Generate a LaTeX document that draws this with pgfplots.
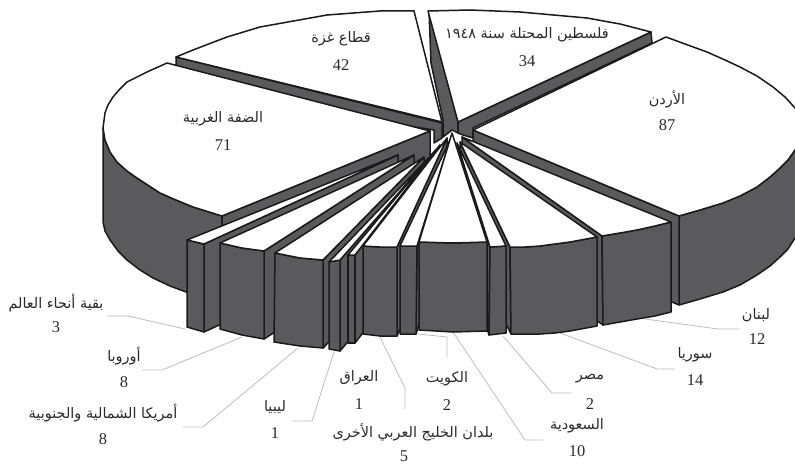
\documentclass[border=0pt]{standalone}
\usepackage{fontspec}
\usepackage{pgfplots}
\pgfplotsset{compat=1.18}
\setmainfont{Liberation Serif}
\newfontfamily\arabicfont[Script=Arabic]{DejaVu Sans}
\TeXXeTstate=1
\definecolor{sidegray}{HTML}{5A5A5C}
\definecolor{edge}{HTML}{1A1A1A}
\definecolor{leader}{HTML}{BDBDBD}
\definecolor{labeltext}{HTML}{2A2A2A}
\newcommand{\ar}[1]{{\arabicfont\fontsize{14.5}{16}\selectfont\beginR #1\endR}}
\newcommand{\val}[1]{{\fontsize{16.5}{18}\selectfont #1}}
\tikzset{
  side/.style={fill=sidegray,draw=edge,line width=1.5bp,line join=round},
  top/.style={fill=white,draw=edge,line width=1.5bp,line join=round},
  lead/.style={draw=leader,line width=0.8bp},
  lab/.style={inner sep=0pt,text=labeltext,anchor=center}
}
\begin{document}
\begin{tikzpicture}
\begin{axis}[
  width=795bp,height=466bp,scale only axis,
  xmin=0,xmax=795,ymin=0,ymax=466,y dir=reverse,
  axis lines=none,no markers]

% keep the page the size of the axis
\path (rel axis cs:0,0) rectangle (rel axis cs:1,1);

% leaders
\addplot[lead] coordinates {(107,316)(128,316)(185,329)};
\addplot[lead] coordinates {(142,370)(162,370)(242,337)};
\addplot[lead] coordinates {(183,427)(203,427)(298,348)};
\addplot[lead] coordinates {(292,421)(312,421)(334,352)};
\addplot[lead] coordinates {(380,337)(405,388)(405,409)};
\addplot[lead] coordinates {(418,334)(447,337)(447,357)};
\addplot[lead] coordinates {(453,332)(525,440)(543,440)};
\addplot[lead] coordinates {(503,336)(552,393)(572,393)};
\addplot[lead] coordinates {(560,333)(657,369)(675,369)};
\addplot[lead] coordinates {(645,319)(718,329)(740,329)};

% back: Gaza, 1948
\addplot[side] coordinates {(176,57)(442,123)(442,138)(434,143)(434,130)(176,90)} --cycle;
\addplot[top] coordinates {(176,57)(193,50)(227,37)(260,27)(327,15)(380,11)(414,11)(442,122)} --cycle;
\addplot[side] coordinates {(429,11)(431,63)(443,120)(443,137)(452,130)(458,133)(458,122)} --cycle;
\addplot[side] coordinates {(458,122)(651,32)(652,43)(473,128)(473,138)(463,135)(458,133)} --cycle;
\addplot[top] coordinates {(428,11)(470,10)(520,12)(587,18)(620,24)(651,32)(458,122)} --cycle;

% West Bank
\addplot[side] coordinates {(103,128)(105,140)(110,152)(117,162)(127,171)(137,178)(160,193)(176,200)(193,207)(222,216)(222,304)(186,292)(170,286)(153,278)(140,270)(127,260)(118,251)(110,240)(105,231)(103,222)} --cycle;
\addplot[side] coordinates {(430,131)(222,216)(222,304)(430,219)} --cycle;
\addplot[top] coordinates {(167,63)(147,72)(127,82)(119,90)(113,97)(108,105)(105,113)(103,128)(105,140)(110,152)(117,162)(127,171)(137,178)(160,193)(176,200)(193,207)(222,216)(430,131)} --cycle;

% Jordan
\addplot[side] coordinates {(679,216)(700,210)(723,203)(740,196)(757,187)(770,177)(780,168)(788,160)(795,150)(801,140)(803,130)(803,219)(801,229)(795,238)(788,249)(780,257)(770,266)(757,275)(740,285)(723,292)(700,299)(679,305)} --cycle;
\addplot[side] coordinates {(473,130)(679,216)(679,305)(473,218)} --cycle;
\addplot[top] coordinates {(473,130)(666,37)(685,44)(707,52)(725,60)(740,67)(757,76)(773,87)(785,97)(795,108)(801,120)(803,130)(801,140)(795,150)(788,160)(780,168)(770,177)(757,187)(740,196)(723,203)(700,210)(679,216)} --cycle;

% right-hand slices, outermost first
\addplot[side] coordinates {(462,137)(602,236)(603,325)(462,225)} --cycle;
\addplot[side] coordinates {(602,236)(620,233)(637,230)(655,226)(671,222)(671,312)(655,316)(637,319)(620,322)(603,325)} --cycle;
\addplot[top] coordinates {(462,137)(602,236)(620,233)(637,230)(655,226)(671,222)} --cycle;
\addplot[side] coordinates {(460,142)(510,247)(511,334)(460,230)} --cycle;
\addplot[side] coordinates {(510,247)(525,247)(540,246)(555,244)(570,242)(597,237)(597,326)(570,331)(555,333)(540,334)(525,334)(511,334)} --cycle;
\addplot[top] coordinates {(460,142)(510,247)(525,247)(540,246)(555,244)(570,242)(597,237)} --cycle;
\addplot[side] coordinates {(457,143)(490,247)(489,335)(457,231)} --cycle;
\addplot[side] coordinates {(490,247)(506,246)(506,333)(489,335)} --cycle;
\addplot[top] coordinates {(457,143)(490,247)(506,246)} --cycle;

% left-hand slices, outermost first
\addplot[side] coordinates {(204,244)(398,155)(398,243)(204,332)} --cycle;
\addplot[side] coordinates {(187,240)(204,244)(204,332)(187,327)} --cycle;
\addplot[top] coordinates {(187,240)(204,244)(398,155)} --cycle;
\addplot[side] coordinates {(264,251)(414,155)(414,243)(264,339)} --cycle;
\addplot[side] coordinates {(220,243)(242,248)(264,251)(264,339)(242,335)(220,329)} --cycle;
\addplot[top] coordinates {(220,243)(242,248)(264,251)(414,155)} --cycle;
\addplot[side] coordinates {(323,260)(424,157)(424,245)(323,348)} --cycle;
\addplot[side] coordinates {(275,253)(300,258)(323,260)(323,348)(300,346)(274,342)} --cycle;
\addplot[top] coordinates {(275,253)(300,258)(323,260)(424,157)} --cycle;
\addplot[side] coordinates {(340,260)(436,150)(436,238)(340,351)} --cycle;
\addplot[side] coordinates {(329,262)(340,260)(340,351)(329,349)} --cycle;
\addplot[top] coordinates {(329,262)(340,260)(436,150)} --cycle;
\addplot[side] coordinates {(355,255)(440,145)(440,233)(355,343)} --cycle;
\addplot[side] coordinates {(348,255)(355,255)(355,343)(348,343)} --cycle;
\addplot[top] coordinates {(348,255)(355,255)(440,145)} --cycle;
\addplot[side] coordinates {(397,247)(447,138)(447,226)(397,336)} --cycle;
\addplot[side] coordinates {(363,246)(380,247)(397,247)(397,336)(380,336)(363,334)} --cycle;
\addplot[top] coordinates {(363,246)(380,247)(397,247)(447,138)} --cycle;
\addplot[side] coordinates {(417,246)(450,140)(450,228)(416,334)} --cycle;
\addplot[side] coordinates {(400,246)(417,246)(416,334)(400,334)} --cycle;
\addplot[top] coordinates {(400,246)(417,246)(450,140)} --cycle;

% Saudi Arabia, frontmost
\addplot[side] coordinates {(419,242)(453,243)(487,242)(487,331)(453,332)(419,330)} --cycle;
\addplot[top] coordinates {(419,242)(453,243)(487,242)(452,133)} --cycle;

% labels
\node[lab] at (axis cs:527,35) {\ar{فلسطين المحتلة سنة \beginL ١٩٤٨\endL}};
\node[lab] at (axis cs:527,61) {\val{34}};
\node[lab] at (axis cs:667,99) {\ar{الأردن}};
\node[lab] at (axis cs:667,125) {\val{87}};
\node[lab] at (axis cs:341,39) {\ar{قطاع غزة}};
\node[lab] at (axis cs:341,65) {\val{42}};
\node[lab] at (axis cs:223,119) {\ar{الضفة الغربية}};
\node[lab] at (axis cs:223,145) {\val{71}};
\node[lab] at (axis cs:56,303) {\ar{بقية أنحاء العالم}};
\node[lab] at (axis cs:56,327) {\val{3}};
\node[lab] at (axis cs:124,356) {\ar{أوروبا}};
\node[lab] at (axis cs:124,382) {\val{8}};
\node[lab] at (axis cs:103,413) {\ar{أمريكا الشمالية والجنوبية}};
\node[lab] at (axis cs:103,439) {\val{8}};
\node[lab] at (axis cs:275,407) {\ar{ليبيا}};
\node[lab] at (axis cs:275,433) {\val{1}};
\node[lab] at (axis cs:359,378) {\ar{العراق}};
\node[lab] at (axis cs:359,404) {\val{1}};
\node[lab] at (axis cs:413,432) {\ar{بلدان الخليج العربي الأخرى}};
\node[lab] at (axis cs:404,456) {\val{5}};
\node[lab] at (axis cs:447,379) {\ar{الكويت}};
\node[lab] at (axis cs:447,405) {\val{2}};
\node[lab] at (axis cs:577,426) {\ar{السعودية}};
\node[lab] at (axis cs:577,451) {\val{10}};
\node[lab] at (axis cs:590,379) {\ar{مصر}};
\node[lab] at (axis cs:590,404) {\val{2}};
\node[lab] at (axis cs:695,355) {\ar{سوريا}};
\node[lab] at (axis cs:695,380) {\val{14}};
\node[lab] at (axis cs:756,315) {\ar{لبنان}};
\node[lab] at (axis cs:757,339) {\val{12}};
\end{axis}
\end{tikzpicture}
\end{document}
